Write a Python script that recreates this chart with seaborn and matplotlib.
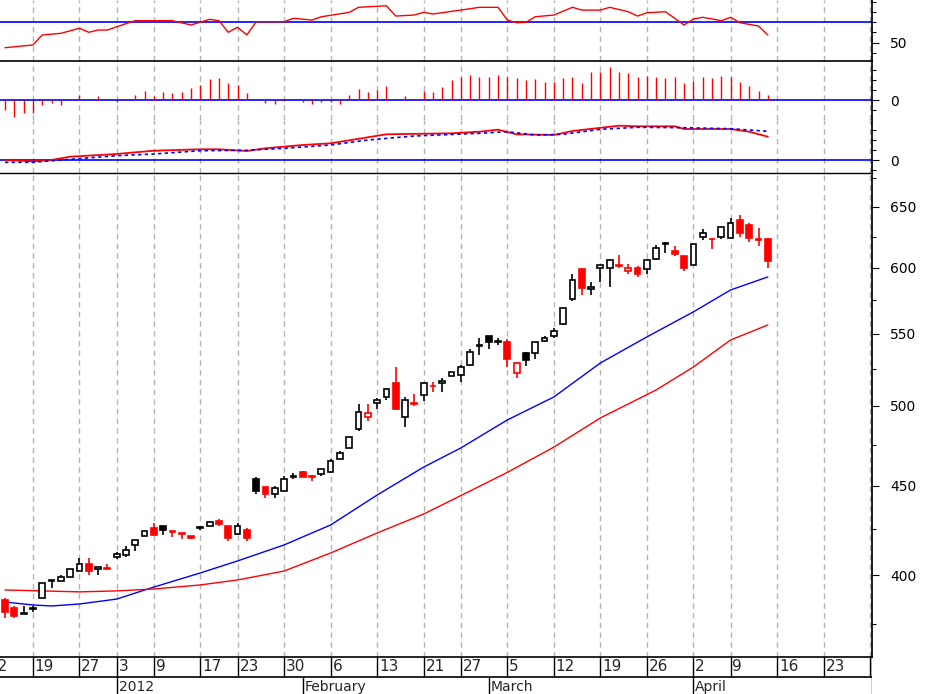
import numpy as np
import pandas as pd
import matplotlib
matplotlib.use("Agg")
import matplotlib.pyplot as plt
import seaborn as sns

# 日 K 线数据（2011-12-14 ~ 2012-04-13）
opens = [387, 383, 380.5, 382.5, 388, 397, 397, 399, 402, 406, 403, 403,
         409.5, 410.5, 416, 421, 425.5, 426.5, 423.5, 422.5, 421, 425.5, 426.5, 429.5,
         427, 422.5, 424.5, 454, 449.5, 445, 447, 455, 458, 456, 457, 458,
         466, 473, 485, 493, 502, 506, 515, 493, 502, 507, 513, 515,
         520, 521, 528, 541, 548, 544, 544, 522, 536, 536, 545, 548,
         557, 576, 599, 583, 600, 600, 602, 597, 600, 599, 607, 619,
         613, 609, 602, 625, 623.5, 625, 624, 639, 635, 623.5, 623]
highs = [388, 384, 384, 384, 396, 397, 400, 403, 409, 409, 404, 406,
         412.5, 415.5, 419, 424, 428.5, 426.5, 423.6, 423, 421, 426.5, 429, 430.5,
         427, 428.5, 425.5, 455, 449.5, 450, 456, 457.5, 459, 456.5, 460, 466,
         471, 480, 501, 501, 505, 512, 526, 506, 508, 516, 516, 519,
         523, 528, 539, 547, 548, 547, 546, 530, 537, 544, 548, 554,
         569, 595, 599, 589, 602, 607, 610, 603, 601, 606, 618, 621,
         617, 609, 619, 631, 624, 633, 641, 643, 636, 632, 624]
lows = [378, 378, 380, 381, 388, 393, 397, 399, 402, 400, 400, 403,
        408.5, 409.5, 413, 421, 421.5, 421.5, 420.5, 419.5, 419.5, 424.5, 426.5, 426.5,
        418.5, 421.5, 418.5, 445, 443, 443, 447, 454, 455, 453, 456, 458,
        466, 473, 484, 490, 498, 504, 497, 486, 500, 503, 509, 509,
        520, 516, 527, 535, 539, 542, 526, 519, 527, 532, 544, 547,
        556, 574, 579, 579, 589, 585, 600, 595, 593, 595, 606, 612,
        609, 597, 602, 622, 615, 623, 624, 625, 621, 617, 600]
closes = [381, 379, 380, 382.5, 396, 397, 399, 403, 406, 402, 404, 403.8,
          411.5, 413.5, 419, 424, 421.8, 424.5, 423.4, 422.4, 420, 426, 429, 428,
          420, 427, 420, 447, 445, 448.5, 454, 456, 455.5, 455, 460, 465,
          470, 480, 496, 495.5, 504, 511, 498, 504, 501.5, 515, 513, 517,
          523, 526, 537, 542, 544, 545, 532, 529, 531, 544, 547, 552,
          569, 590, 584, 585, 602, 606, 601.5, 600, 595, 606, 616, 619.5,
          611, 600, 619, 628, 623, 633, 636, 628, 624, 622.5, 605]

# 均线（按 K 线序号取点读取）
ma_blue_idx = [0, 3, 5, 8, 12, 16, 21, 25, 30, 35, 40, 45, 49, 54, 59, 64, 69, 74, 78, 82]
ma_blue = [386.0, 384.5, 384.0, 385.0, 387.5, 393.7, 401.1, 407.5, 416.2, 427.3,
           444.5, 461.2, 473.0, 490.8, 505.9, 529.1, 547.6, 566.0, 582.6, 592.7]
ma_red_idx = [0, 8, 12, 16, 21, 25, 30, 35, 40, 45, 50, 54, 59, 64, 70, 74, 78, 82]
ma_red = [392.2, 391.2, 391.7, 392.7, 394.8, 397.4, 402.1, 411.8, 422.8, 433.5,
          446.9, 458.0, 473.5, 492.1, 510.6, 526.3, 545.4, 556.3]

# RSI
rsi_idx = [0, 3, 4, 6, 8, 9, 10, 11, 12, 14, 18, 20, 22, 23, 24, 25, 26, 27, 30, 31,
           33, 34, 37, 38, 41, 42, 44, 45, 46, 49, 51, 53, 54, 55, 56, 57, 59, 61, 62,
           64, 65, 67, 68, 69, 71, 73, 74, 75, 77, 78, 79, 81, 82]
rsi = [45.1, 47.8, 57.5, 59.1, 64.0, 60.1, 62.3, 62.3, 65.5, 71.4, 71.4, 67.2, 72.7,
       71.4, 60.1, 65.0, 57.5, 70.4, 70.4, 73.7, 72.0, 75.2, 79.5, 84.4, 85.9, 75.9,
       76.9, 79.5, 77.9, 81.7, 84.4, 84.4, 72.0, 69.4, 69.8, 75.2, 76.9, 84.4, 81.7,
       81.7, 84.4, 80.1, 75.9, 79.1, 80.1, 67.2, 73.0, 74.7, 71.4, 74.7, 69.4, 66.2, 57.5]

# MACD 柱状图与两条线
hist = [-10, -16.7, -13, -13, -5, -3.3, -5, 1.3, 5.3, 0.7, 4, 0, -1.7, 1, 5, 9.3, 4, 8,
        7.3, 8.3, 12.3, 15, 21, 22, 16.7, 15, 6.7, 0, -3.3, -4.3, -0.7, 0, -1.7, -3.7,
        -2.3, -2, -3.7, 5, 11, 8.3, 10, 14, 0, 4, 1, 9, 8.3, 13, 20, 23, 25, 23.3, 23.3,
        25, 23.3, 21.7, 20, 21, 18.3, 18.3, 22.3, 23, 17.3, 28.3, 28.3, 32.7, 28.3, 27.3,
        23.3, 24, 23.3, 21.7, 23.3, 17.3, 19.3, 22.7, 22.3, 24, 23.3, 18.3, 14, 9.3, 5]
macd_idx = [0, 3, 5, 7, 12, 16, 21, 23, 26, 28, 32, 35, 39, 41, 48, 51, 53, 55, 59,
            61, 66, 68, 72, 73, 78, 80, 82]
macd = [0, -1.3, 0, 3.3, 6, 9.3, 10.7, 10.7, 9, 11.7, 15, 16.7, 22.7, 25.7, 26.7,
        28.3, 30.3, 25.7, 25, 29, 34.3, 33.7, 33.7, 31, 31, 28.3, 23.3]
signal_idx = [0, 3, 7, 12, 16, 21, 26, 30, 35, 39, 44, 51, 54, 57, 60, 64, 68, 73, 78, 82]
signal = [-2.3, -2.3, 0.7, 4.3, 6, 9.3, 9.7, 11.7, 15, 20, 24, 26.7, 28.3, 25, 25.7,
          30.7, 32.7, 32.3, 31.3, 28.7]

# 横轴：每周第一个交易日的序号与标签，以及月份
week_pos = [-2, 3, 8, 12, 16, 21, 25, 30, 35, 40, 45, 49, 54, 59, 64, 69, 74, 78, 83, 88, 93]
week_labels = ['12', '19', '27', '3', '9', '17', '23', '30', '6', '13', '21', '27',
               '5', '12', '19', '26', '2', '9', '16', '23', '30']
month_pos = [12, 32, 52, 74]
month_labels = ['2012', 'February', 'March', 'April']

sns.set_theme(style="white", font="DejaVu Sans")
RED, BLUE = "#ff0000", "#0000ff"
H = 694.0
XL = (-0.54, 93.2)
W = 872 / 932

fig = plt.figure(figsize=(9.32, 6.94), dpi=100)
ax_rsi = fig.add_axes([0, 1 - 61 / H, W, 61 / H])
ax_hist = fig.add_axes([0, 1 - 120 / H, W, 59 / H])
ax_macd = fig.add_axes([0, 1 - 173 / H, W, 53 / H])
ax = fig.add_axes([0, 1 - 657 / H, W, 482 / H])
ax_dt = fig.add_axes([0, 0, W, 37 / H])

for a in (ax_rsi, ax_hist, ax_macd, ax):
    a.set_xlim(*XL)
    a.set_xticks([])
    for wp in week_pos:
        a.axvline(wp, color="#b4b4b4", ls=(0, (4, 3)), lw=1, zorder=0)
    a.spines['left'].set_visible(False)
    a.spines['right'].set_color('black')
    a.yaxis.tick_right()
    a.tick_params(axis='y', which='both', direction='out', colors='black',
                  labelsize=10, length=5, width=0.8, pad=8)
    a.tick_params(axis='y', which='minor', length=3)
    a.set_facecolor('white')

# RSI
ax_rsi.set_ylim(32.2, 91.5)
ax_rsi.axhline(70, color=BLUE, lw=1.2)
sns.lineplot(x=rsi_idx, y=rsi, ax=ax_rsi, color=RED, lw=1)
ax_rsi.set_yticks([50])
ax_rsi.set_yticks([40, 60, 70, 80, 90], minor=True)
ax_rsi.spines['top'].set_visible(False)
ax_rsi.spines['bottom'].set_visible(False)

# 柱状图
ax_hist.set_ylim(-20, 39)
ax_hist.axhline(0, color=BLUE, lw=1.2)
ax_hist.vlines(np.arange(len(hist)), 0, hist, color=RED, lw=1)
ax_hist.set_yticks([0])
ax_hist.set_yticks([-10, 10, 20, 30], minor=True)
ax_hist.spines['top'].set_color('black')
ax_hist.spines['top'].set_linewidth(1.2)
ax_hist.spines['bottom'].set_visible(False)

# MACD
ax_macd.set_ylim(-13, 40)
ax_macd.axhline(0, color=BLUE, lw=1.2)
sns.lineplot(x=macd_idx, y=macd, ax=ax_macd, color=RED, lw=1.3)
ax_macd.plot(signal_idx, signal, color=BLUE, lw=1.2, ls=(0, (2, 2)))
ax_macd.set_yticks([0])
ax_macd.set_yticks([-10, 10, 20, 30], minor=True)
ax_macd.spines['top'].set_visible(False)
ax_macd.spines['bottom'].set_color('black')
ax_macd.spines['bottom'].set_linewidth(1)

# 主图 K 线
o, h, l, c = map(np.array, (opens, highs, lows, closes))
idx = np.arange(len(c))
prev = np.r_[np.inf, c[:-1]]
cols = np.where(c >= prev, 'black', RED)
faces = np.where(c > o, 'white', cols)
ax.set_yscale('log')
ax.set_ylim(359, 678)
ax.vlines(idx, l, h, colors=cols, lw=1.2, zorder=2)
ax.bar(idx, np.maximum(np.abs(c - o), 0.3), bottom=np.minimum(o, c), width=0.62,
       color=faces, edgecolor=cols, linewidth=1.2, zorder=3)
sns.lineplot(x=ma_blue_idx, y=ma_blue, ax=ax, color=BLUE, lw=1)
sns.lineplot(x=ma_red_idx, y=ma_red, ax=ax, color=RED, lw=1)
ax.yaxis.set_major_locator(matplotlib.ticker.FixedLocator([400, 450, 500, 550, 600, 650]))
ax.yaxis.set_major_formatter(matplotlib.ticker.FixedFormatter(['400', '450', '500', '550', '600', '650']))
ax.yaxis.set_minor_locator(matplotlib.ticker.FixedLocator([375, 425, 475, 525, 575, 625, 675]))
ax.yaxis.set_minor_formatter(matplotlib.ticker.NullFormatter())
ax.spines['top'].set_visible(False)
ax.spines['bottom'].set_color('black')
ax.spines['bottom'].set_linewidth(1.2)

# 日期栏
ax_dt.set_xlim(*XL)
ax_dt.set_ylim(0, 1)
ax_dt.axis('off')
ax_dt.axhline(0.46, color='black', lw=1.2)
ax_dt.axvline(XL[1], color='black', lw=1)
ax_dt.vlines(week_pos, 0.46, 1, color='black', lw=1)
for wp, lab in zip(week_pos, week_labels):
    ax_dt.text(wp + 0.2, 0.73, lab, fontsize=11, va='center', ha='left', clip_on=True)
ax_dt.vlines(month_pos, 0, 0.46, color='black', lw=1)
for mp, lab in zip(month_pos, month_labels):
    ax_dt.text(mp + 0.2, 0.2, lab, fontsize=10, va='center', ha='left')

fig.savefig("out.png", dpi=100, facecolor='white')
